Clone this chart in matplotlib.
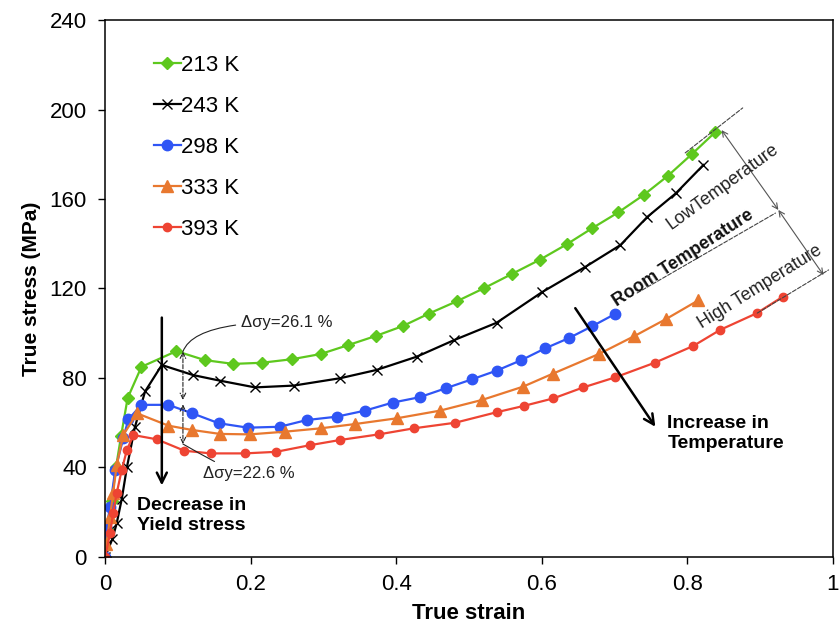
import matplotlib
matplotlib.use('Agg')
import matplotlib.pyplot as plt

plt.rcParams['font.family'] = ['Liberation Sans', 'DejaVu Sans']

# true strain / true stress (MPa)
x_213 = [0, 0.004, 0.009, 0.015, 0.022, 0.031, 0.050, 0.098, 0.137, 0.176, 0.215, 0.257, 0.296, 0.334,
         0.372, 0.409, 0.445, 0.484, 0.521, 0.559, 0.597, 0.634, 0.669, 0.705, 0.740, 0.773, 0.806, 0.838]
y_213 = [0, 12, 25, 40, 54, 71, 85, 92, 88, 86.3, 86.8, 88.4, 90.7, 94.7,
         98.8, 103.2, 108.8, 114.4, 120.2, 126.5, 132.8, 139.7, 146.9, 154, 161.8, 170.3, 180, 189.8]

x_243 = [0, 0.010, 0.016, 0.023, 0.030, 0.041, 0.055, 0.078, 0.121, 0.158, 0.206, 0.259, 0.323,
         0.373, 0.428, 0.480, 0.538, 0.600, 0.660, 0.708, 0.745, 0.784, 0.822]
y_243 = [0, 8, 15, 26, 40, 58, 74, 85.8, 81.3, 78.8, 75.8, 76.6, 79.9,
         83.6, 89.5, 97, 104.7, 118.3, 129.7, 139.4, 152, 162.5, 175.2]

x_298 = [0, 0.002, 0.007, 0.014, 0.025, 0.032, 0.050, 0.087, 0.120, 0.156, 0.196, 0.240, 0.277,
         0.318, 0.357, 0.395, 0.432, 0.468, 0.504, 0.538, 0.572, 0.605, 0.637, 0.669, 0.700]
y_298 = [0, 13.5, 22.5, 38.9, 53, 61.5, 68, 68, 64.2, 59.8, 57.8, 58.2, 61.2,
         62.7, 65.4, 69, 71.4, 75.4, 79.4, 83.3, 88, 93.3, 97.8, 103.1, 108.5]

x_333 = [0, 0.002, 0.007, 0.011, 0.016, 0.025, 0.044, 0.087, 0.119, 0.158, 0.199, 0.247,
         0.296, 0.343, 0.401, 0.460, 0.518, 0.574, 0.615, 0.679, 0.727, 0.771, 0.815]
y_333 = [0, 6, 18, 28.5, 41, 54.5, 64.2, 58.7, 56.8, 55, 54.8, 56,
         57.5, 59.4, 62, 65.4, 70.2, 76.1, 81.9, 90.8, 98.7, 106.4, 114.7]

x_393 = [0, 0.007, 0.011, 0.016, 0.023, 0.030, 0.039, 0.071, 0.109, 0.145, 0.192, 0.235, 0.282, 0.323,
         0.376, 0.424, 0.481, 0.538, 0.575, 0.616, 0.657, 0.701, 0.755, 0.808, 0.845, 0.895, 0.931]
y_393 = [0, 10.6, 19.5, 28.5, 39, 47.8, 54.5, 52.6, 47.5, 46.3, 46.3, 47, 50, 52.3,
         54.8, 57.5, 60, 64.7, 67.5, 70.9, 75.8, 80.3, 86.8, 94.3, 101.5, 108.9, 116.3]

fig = plt.figure(figsize=(8.39, 6.37), dpi=100)
ax = fig.add_axes([0.1252, 0.1256, 0.8676, 0.843])

ax.plot(x_213, y_213, color='#5ec81e', marker='D', ms=6, lw=1.6, label='213 K')
ax.plot(x_243, y_243, color='black', marker='x', ms=7, mew=1.0, lw=1.6, label='243 K')
ax.plot(x_298, y_298, color='#2f55f5', marker='o', ms=7.5, lw=1.6, label='298 K')
ax.plot(x_333, y_333, color='#e8782f', marker='^', ms=8, lw=1.6, label='333 K')
ax.plot(x_393, y_393, color='#ee4433', marker='o', ms=6, lw=1.6, label='393 K')

ax.set_xlim(0, 1)
ax.set_ylim(0, 240)
ax.set_xticks([0, 0.2, 0.4, 0.6, 0.8, 1])
ax.set_xticklabels(['0', '0.2', '0.4', '0.6', '0.8', '1'])
ax.set_yticks(range(0, 241, 40))
ax.tick_params(direction='out', length=5, width=1, labelsize=16)
ax.tick_params(axis='x', pad=7)
ax.tick_params(axis='y', pad=8)
for s in ax.spines.values():
    s.set_linewidth(1.1)

ax.set_xlabel('True strain', fontsize=16, fontweight='bold', labelpad=6)
ax.set_ylabel('True stress (MPa)', fontsize=15, fontweight='bold', labelpad=6)

ax.legend(loc='upper left', bbox_to_anchor=(0.04, 0.972), frameon=False, fontsize=16,
          handlelength=1.2, handletextpad=0.0, labelspacing=0.9)

# yield-stress drop annotations
dash = dict(arrowstyle='<->', linestyle='--', lw=0.8, color='#222', shrinkA=0, shrinkB=0)
ax.annotate('', xy=(0.107, 70.2), xytext=(0.107, 91.8), arrowprops=dash)
ax.annotate('', xy=(0.107, 50.5), xytext=(0.107, 68.2), arrowprops=dash)
ax.annotate('\u0394\u03c3y=26.1 %', xy=(0.107, 91.8), xytext=(0.187, 105), fontsize=12,
            va='center', color='#222',
            arrowprops=dict(arrowstyle='-', lw=0.8, color='#222', shrinkA=2, shrinkB=0,
                            connectionstyle='angle3,angleA=180,angleB=70'))
ax.annotate('\u0394\u03c3y=22.6 %', xy=(0.107, 50.5), xytext=(0.135, 37.5), fontsize=12,
            va='center', color='#222',
            arrowprops=dict(arrowstyle='-', lw=0.8, color='#222', shrinkA=2, shrinkB=0,
                            connectionstyle='angle3,angleA=90,angleB=-30'))

big = dict(arrowstyle='->', lw=1.8, color='black', mutation_scale=18, shrinkA=0, shrinkB=0)
ax.annotate('', xy=(0.078, 32), xytext=(0.078, 107), arrowprops=big)
ax.text(0.044, 18.5, 'Decrease in\nYield stress', fontsize=14, fontweight='bold',
        va='center', ha='left', linespacing=1.2)

ax.annotate('', xy=(0.756, 58.2), xytext=(0.646, 111.2), arrowprops=big)
ax.text(0.7725, 55.2, 'Increase in\nTemperature', fontsize=14, fontweight='bold',
        va='center', ha='left', linespacing=1.2)

# temperature band markers
thin = dict(arrowstyle='<->', lw=0.8, color='#555', shrinkA=0, shrinkB=0)
ax.annotate('', xy=(0.925, 155.1), xytext=(0.847, 190.8), arrowprops=thin)
ax.annotate('', xy=(0.987, 126), xytext=(0.925, 155.1), arrowprops=thin)
ref = dict(arrowstyle='-', linestyle='--', lw=0.8, color='#444', shrinkA=0, shrinkB=0)
ax.annotate('', xy=(0.876, 200.7), xytext=(0.797, 180.6), arrowprops=ref)
ax.annotate('', xy=(0.921, 153.7), xytext=(0.731, 118), arrowprops=ref)
ax.annotate('', xy=(0.994, 128.3), xytext=(0.896, 109), arrowprops=ref)

ax.text(0.848, 165.4, 'LowTemperature', rotation=36, rotation_mode='anchor',
        ha='center', va='center', fontsize=13, color='#222')
ax.text(0.794, 133.6, 'Room Temperature', rotation=33, rotation_mode='anchor',
        ha='center', va='center', fontsize=13, fontweight='bold', color='#111')
ax.text(0.900, 120.7, 'High Temperature', rotation=32, rotation_mode='anchor',
        ha='center', va='center', fontsize=13, color='#222')

fig.savefig('out.png', dpi=100)
